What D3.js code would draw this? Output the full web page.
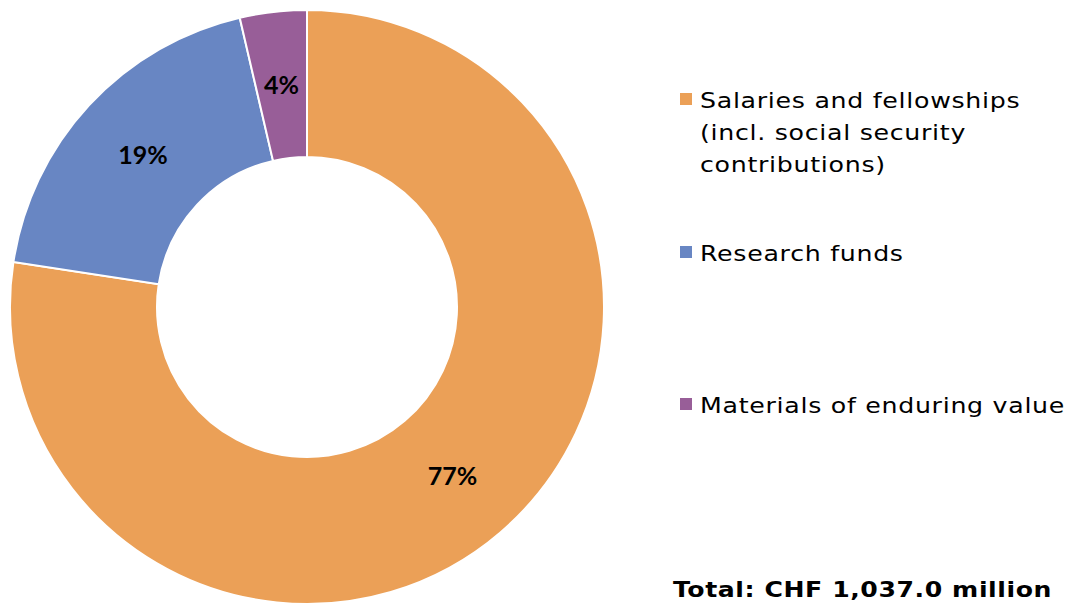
<!DOCTYPE html>
<html>
<head>
<meta charset="utf-8">
<script src="https://cdn.jsdelivr.net/npm/d3@7"></script>
<style>
  body { margin: 0; background: #fff; }
</style>
</head>
<body>
<script>
const WIDTH = 1071;
const HEIGHT = 605;

// expenditure by category, CHF million
const categories = ["Salaries and fellowships (incl. social security contributions)", "Research funds", "Materials of enduring value"];
const legendLines = [["Salaries and fellowships", "(incl. social security", "contributions)"], ["Research funds"], ["Materials of enduring value"]];
const values = [802.9, 196.4, 37.7];
const percentLabels = ["77%", "19%", "4%"];
const colors = ["#EBA057", "#6886C3", "#985E98"];
const totalLabel = "Total: CHF 1,037.0 million";

const cx = 307, cy = 307;
const outerR = 297, innerR = 150;

var svg = d3.select("body")
    .append("svg")
    .attr("width", WIDTH)
    .attr("height", HEIGHT);

var pie = d3.pie().sort(null).value(d => d);
var arc = d3.arc().innerRadius(innerR).outerRadius(outerR);

var g = svg.append("g").attr("transform", `translate(${cx},${cy})`);

var slices = pie(values);

g.selectAll("path")
    .data(slices)
    .enter()
    .append("path")
    .attr("d", arc)
    .attr("fill", (d, i) => colors[i])
    .attr("stroke", "#fff")
    .attr("stroke-width", 2);

// percent labels at slice centroids
g.selectAll("text")
    .data(slices)
    .enter()
    .append("text")
    .attr("transform", d => `translate(${arc.centroid(d)})`)
    .attr("text-anchor", "middle")
    .attr("dy", "0.35em")
    .style("font-family", "Lato, 'Liberation Sans', sans-serif")
    .style("font-weight", "bold")
    .style("font-size", "25px")
    .attr("fill", "#000")
    .text((d, i) => percentLabels[i]);

// legend (text stretched a bit to get Verdana's width)
const legendY = [108, 261, 413];
const lineH = 32;
var legend = svg.append("g");

categories.forEach(function (c, i) {
    legend.append("rect")
        .attr("x", 680)
        .attr("y", legendY[i] - 15)
        .attr("width", 12)
        .attr("height", 12)
        .attr("fill", colors[i]);
    var t = legend.append("g")
        .attr("transform", `translate(700,${legendY[i]}) scale(1.175,1)`)
        .append("text")
        .style("font-family", "'DejaVu Sans', Verdana, sans-serif")
        .style("font-size", "21.5px")
        .style("letter-spacing", "0.6px")
        .attr("fill", "#000");
    legendLines[i].forEach(function (line, j) {
        t.append("tspan")
            .attr("x", 0)
            .attr("y", j * lineH)
            .text(line);
    });
});

svg.append("g")
    .attr("transform", "translate(1052,597) scale(1.17,1)")
    .append("text")
    .attr("text-anchor", "end")
    .style("font-family", "'DejaVu Sans', Verdana, sans-serif")
    .style("font-weight", "bold")
    .style("font-size", "21.5px")
    .style("letter-spacing", "0.5px")
    .attr("fill", "#000")
    .text(totalLabel);
</script>
</body>
</html>
